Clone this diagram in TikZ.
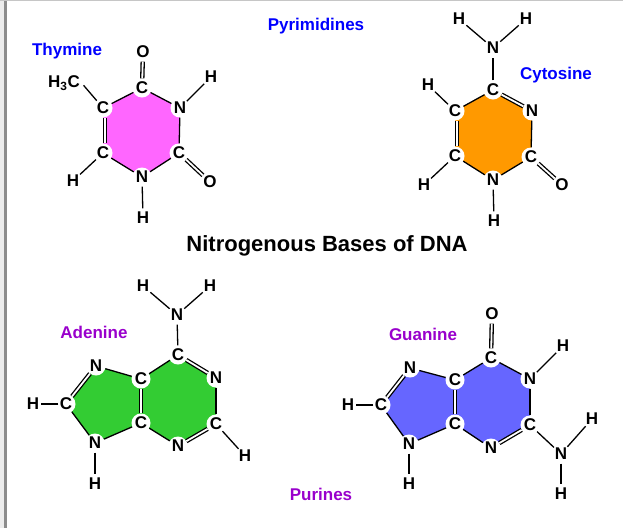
\documentclass[tikz,border=0pt]{standalone}
\usepackage{fontspec}
\setmainfont{Liberation Sans}
\usetikzlibrary{backgrounds}

\definecolor{thyminepink}{HTML}{FF66FF}
\definecolor{cytosineorange}{HTML}{FF9900}
\definecolor{adeninegreen}{HTML}{33CC33}
\definecolor{guanineblue}{HTML}{6666FF}
\definecolor{namepurple}{HTML}{9900CC}

\tikzset{
  atom/.style={circle, fill=white, inner sep=0pt, minimum size=19pt,
    font=\fontsize{17}{17}\selectfont\bfseries},
  bond/.style={line width=1.3pt},
  dblbond/.style={line width=1.3pt, double=white, double distance=1.8pt},
  basename/.style={font=\fontsize{17}{19}\selectfont\bfseries},
}

\begin{document}
\begin{tikzpicture}[x=1pt, y=-1pt]
\useasboundingbox (0,0) rectangle (623,528);

% Page frame of the screenshot
\fill[gray!15] (0,0) rectangle (4,528);
\fill[gray!90] (4,0) rectangle (6.5,528);
\fill[gray!45] (0,0) rectangle (623,1.2);

% Headings
\node[basename, blue] (pyrimidines) at (316,26) {Pyrimidines};
\node[font=\fontsize{22}{24}\selectfont\bfseries] (title) at (327,246) {Nitrogenous Bases of DNA};
\node[basename, namepurple] (purines) at (321,494) {Purines};

% Thymine
\node[basename, blue] (thymine) at (67,51) {Thymine};
\node[atom] (tc1) at (142,88) {C};
\node[atom] (tn1) at (180,108) {N};
\node[atom] (tc2) at (179,153) {C};
\node[atom] (tn2) at (142,177) {N};
\node[atom] (tc3) at (103,153) {C};
\node[atom] (tc4) at (103,108) {C};
\node[atom] (to1) at (143,52) {O};
\node[atom] (to2) at (210,182) {O};
\node[atom] (th1) at (211,77) {H};
\node[atom] (th2) at (143,218) {H};
\node[atom] (th3) at (73,181) {H};
\node[atom, minimum size=0pt, fill=none] (tme) at (64,83) {H\textsubscript{3}C};
\begin{scope}[on background layer]
\fill[thyminepink] (tc1.center) -- (tn1.center) -- (tc2.center) -- (tn2.center) -- (tc3.center) -- (tc4.center) -- cycle;
\end{scope}
\draw[bond] (tc1) -- (tn1);
\draw[bond] (tn1) -- (tc2);
\draw[bond] (tc2) -- (tn2);
\draw[bond] (tn2) -- (tc3);
\draw[bond] (tc4) -- (tc1);
\draw[dblbond, transform canvas={xshift=2pt}] (tc3) -- (tc4);
\draw[dblbond] (tc1) -- (to1);
\draw[dblbond] (tc2) -- (to2);
\draw[bond] (tn1) -- (th1);
\draw[bond] (tn2) -- (th2);
\draw[bond] (tc3) -- (th3);
\draw[bond, shorten <=3pt] (tme.east) -- (tc4);

% Cytosine
\node[basename, blue] (cytosine) at (556,75) {Cytosine};
\node[atom] (cc1) at (493,90) {C};
\node[atom] (cn1) at (532,111) {N};
\node[atom] (cc2) at (531,157) {C};
\node[atom] (cn2) at (493,180) {N};
\node[atom] (cc3) at (455,156) {C};
\node[atom] (cc4) at (455,111) {C};
\node[atom] (cn3) at (493,48) {N};
\node[atom] (co1) at (562,185) {O};
\node[atom] (ch1) at (459,19) {H};
\node[atom] (ch2) at (526,19) {H};
\node[atom] (ch3) at (428,85) {H};
\node[atom] (ch4) at (424,185) {H};
\node[atom] (ch5) at (494,221) {H};
\begin{scope}[on background layer]
\fill[cytosineorange] (cc1.center) -- (cn1.center) -- (cc2.center) -- (cn2.center) -- (cc3.center) -- (cc4.center) -- cycle;
\end{scope}
\draw[dblbond] (cc1) -- (cn1);
\draw[bond] (cn1) -- (cc2);
\draw[bond] (cc2) -- (cn2);
\draw[bond] (cn2) -- (cc3);
\draw[bond] (cc4) -- (cc1);
\draw[dblbond, transform canvas={xshift=2pt}] (cc3) -- (cc4);
\draw[dblbond] (cc2) -- (co1);
\draw[bond] (cc1) -- (cn3);
\draw[bond] (cn3) -- (ch1);
\draw[bond] (cn3) -- (ch2);
\draw[bond] (cc4) -- (ch3);
\draw[bond] (cc3) -- (ch4);
\draw[bond] (cn2) -- (ch5);

% Adenine
\node[basename, namepurple] (adenine) at (94,332) {Adenine};
\node[atom] (ac1) at (178,355) {C};
\node[atom] (an1) at (216,378) {N};
\node[atom] (ac2) at (216,424) {C};
\node[atom] (an2) at (178,446) {N};
\node[atom] (ac3) at (141,423) {C};
\node[atom] (ac4) at (141,379) {C};
\node[atom] (an3) at (96,366) {N};
\node[atom] (ac5) at (66,404) {C};
\node[atom] (an4) at (95,443) {N};
\node[atom] (an5) at (177,315) {N};
\node[atom] (ah1) at (143,286) {H};
\node[atom] (ah2) at (210,286) {H};
\node[atom] (ah3) at (245,456) {H};
\node[atom] (ah4) at (95,484) {H};
\node[atom] (ah5) at (33,404) {H};
\begin{scope}[on background layer]
\fill[adeninegreen] (ac1.center) -- (an1.center) -- (ac2.center) -- (an2.center) -- (ac3.center) -- (an4.center) -- (ac5.center) -- (an3.center) -- (ac4.center) -- cycle;
\end{scope}
\draw[dblbond] (ac1) -- (an1);
\draw[bond] (an1) -- (ac2);
\draw[dblbond] (ac2) -- (an2);
\draw[bond] (an2) -- (ac3);
\draw[dblbond] (ac3) -- (ac4);
\draw[bond] (ac4) -- (ac1);
\draw[bond] (ac4) -- (an3);
\draw[dblbond] (an3) -- (ac5);
\draw[bond] (ac5) -- (an4);
\draw[bond] (an4) -- (ac3);
\draw[bond] (ac1) -- (an5);
\draw[bond] (an5) -- (ah1);
\draw[bond] (an5) -- (ah2);
\draw[bond] (ac2) -- (ah3);
\draw[bond] (an4) -- (ah4);
\draw[bond, shorten <=-2pt, shorten >=-2pt] (ac5) -- (ah5);

% Guanine
\node[basename, namepurple] (guanine) at (423,334) {Guanine};
\node[atom] (gc1) at (491,358) {C};
\node[atom] (gn1) at (530,379) {N};
\node[atom] (gc2) at (530,425) {C};
\node[atom] (gn2) at (491,448) {N};
\node[atom] (gc3) at (455,424) {C};
\node[atom] (gc4) at (455,380) {C};
\node[atom] (gn3) at (410,368) {N};
\node[atom] (gc5) at (381,405) {C};
\node[atom] (gn4) at (409,444) {N};
\node[atom] (go1) at (492,314) {O};
\node[atom] (gn5) at (561,454) {N};
\node[atom] (gh1) at (563,346) {H};
\node[atom] (gh2) at (592,419) {H};
\node[atom] (gh3) at (561,494) {H};
\node[atom] (gh4) at (409,484) {H};
\node[atom] (gh5) at (348,405) {H};
\begin{scope}[on background layer]
\fill[guanineblue] (gc1.center) -- (gn1.center) -- (gc2.center) -- (gn2.center) -- (gc3.center) -- (gn4.center) -- (gc5.center) -- (gn3.center) -- (gc4.center) -- cycle;
\end{scope}
\draw[bond] (gc1) -- (gn1);
\draw[bond] (gn1) -- (gc2);
\draw[dblbond] (gc2) -- (gn2);
\draw[bond] (gn2) -- (gc3);
\draw[dblbond] (gc3) -- (gc4);
\draw[bond] (gc4) -- (gc1);
\draw[bond] (gc4) -- (gn3);
\draw[dblbond] (gn3) -- (gc5);
\draw[bond] (gc5) -- (gn4);
\draw[bond] (gn4) -- (gc3);
\draw[dblbond] (gc1) -- (go1);
\draw[bond] (gn1) -- (gh1);
\draw[bond] (gc2) -- (gn5);
\draw[bond] (gn5) -- (gh2);
\draw[bond] (gn5) -- (gh3);
\draw[bond] (gn4) -- (gh4);
\draw[bond, shorten <=-2pt, shorten >=-2pt] (gc5) -- (gh5);

\end{tikzpicture}
\end{document}
